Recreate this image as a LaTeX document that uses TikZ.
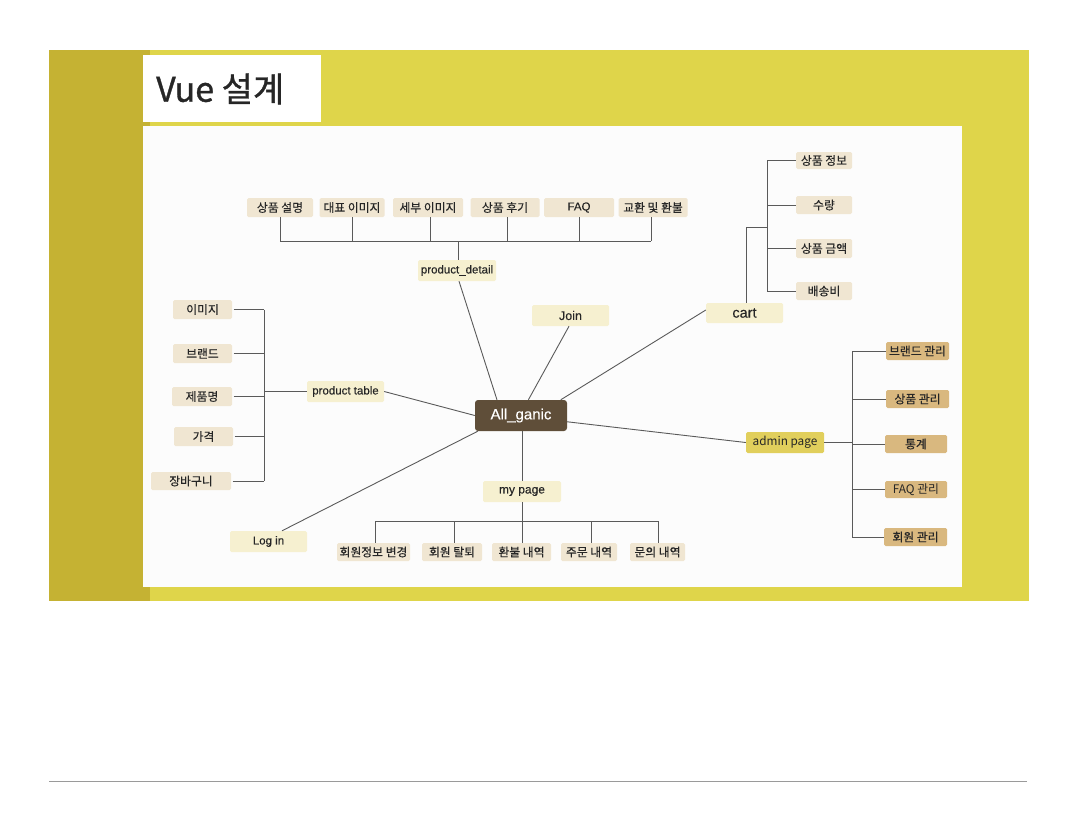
\documentclass[tikz,border=0pt]{standalone}
\usepackage{fontspec}
\usetikzlibrary{calc}
\newfontfamily\kr[FakeBold=0.3]{Noto Sans CJK KR}
\newfontfamily\krl{Noto Sans CJK KR}
\newfontfamily\krt[FakeBold=1.0]{Noto Sans CJK KR}
\newfontfamily\rob[FakeBold=0.3]{Liberation Sans}
\definecolor{yelband}{HTML}{DFD54A}
\definecolor{olive}{HTML}{C5B233}
\definecolor{beige}{HTML}{F0E6D2}
\definecolor{lyel}{HTML}{F6F0D0}
\definecolor{admc}{HTML}{E1CF5C}
\definecolor{tanc}{HTML}{D9B87F}
\definecolor{brownc}{HTML}{5F4E39}
\definecolor{lnc}{HTML}{5A5A5A}
\definecolor{txt}{HTML}{262626}
\definecolor{rule}{HTML}{9A9A9A}
\begin{document}
\begin{tikzpicture}[x=1pt,y=-1pt,
  kb/.style={fill=beige,text=txt,inner sep=0pt,rounded corners=1.5pt,font=\kr\fontsize{11.8}{12}\selectfont},
  lb/.style={fill=lyel,text=txt,inner sep=0pt,rounded corners=1.5pt,font=\rob\fontsize{11.5}{12}\selectfont},
  ab/.style={fill=tanc,text=txt,inner sep=0pt,rounded corners=1.5pt,font=\kr\fontsize{11.8}{12}\selectfont},
  ln/.style={draw=lnc,line width=0.9pt}]
\useasboundingbox (0,0) rectangle (1084,836);
\fill[white] (0,0) rectangle (1084,836);
% background band
\fill[yelband] (49,50) rectangle (1029,601);
\fill[olive] (49,50) rectangle (150,601);
\fill[white!99!black] (143,126) rectangle (962,587);
\node[fill=white,minimum width=178,minimum height=67,inner sep=0pt] (titlebox) at (232,88.5) {};
\node[anchor=west,text=txt,font=\krt\fontsize{34}{34}\selectfont,inner sep=0pt] (title) at (156,89) {Vue 설계};
\draw[rule,line width=0.8pt] (49,781) coordinate (r1) -- (1027,781) coordinate (r2);

% center
\node[fill=brownc,text=white,rounded corners=3pt,inner sep=0pt,minimum width=92,minimum height=31,font=\rob\fontsize{15}{15}\selectfont] (ag) at (521,415.5) {All\_ganic};

% top: product detail
\node[kb,minimum width=66,minimum height=19] (d1) at (280,207.5) {상품 설명};
\node[kb,minimum width=65,minimum height=19] (d2) at (352,207.5) {대표 이미지};
\node[kb,minimum width=70,minimum height=19] (d3) at (428,207.5) {세부 이미지};
\node[kb,minimum width=69,minimum height=19] (d4) at (505,207.5) {상품 후기};
\node[kb,minimum width=70,minimum height=19,font=\rob\fontsize{11.5}{12}\selectfont] (d5) at (579,207.5) {FAQ};
\node[kb,minimum width=69,minimum height=19] (d6) at (653,207.5) {교환 및 환불};
\node[lb,minimum width=78,minimum height=21] (pd) at (457,270.5) {product\_detail};
\coordinate (bus) at (0,241);
\foreach \n/\xx in {d1/280,d2/352,d3/430,d4/507,d5/579,d6/651}
  \draw[ln] (\xx,0 |- \n.south) -- (\xx,0 |- bus);
\draw[ln] (280,0 |- bus) -- (651,0 |- bus);
\draw[ln] (458,0 |- pd.north) -- (458,0 |- bus);
\draw[ln] ($(ag.north west)!0.24!(ag.north east)$) -- (459,0 |- pd.south);

% join
\node[lb,minimum width=77,minimum height=21,font=\rob\fontsize{12.5}{13}\selectfont] (join) at (570.5,315.5) {Join};
\draw[ln] ($(ag.north west)!0.58!(ag.north east)$) -- (569,0 |- join.south);

% cart
\node[lb,minimum width=77,minimum height=20,font=\rob\fontsize{14.5}{15}\selectfont] (cart) at (744.5,313) {cart};
\node[kb,minimum width=56,minimum height=17] (c1) at (824,160.5) {상품 정보};
\node[kb,minimum width=56,minimum height=18] (c2) at (824,205) {수량};
\node[kb,minimum width=56,minimum height=19] (c3) at (824,248.5) {상품 금액};
\node[kb,minimum width=56,minimum height=18] (c4) at (824,291) {배송비};
\coordinate (ctr) at (767,227);
\draw[ln] (746,0 |- cart.north) -- (746,0 |- ctr) -- (ctr);
\draw[ln] (ctr |- c1.west) -- (ctr |- c4.west);
\foreach \n in {c1,c2,c3,c4} \draw[ln] (\n.west) -- (ctr |- \n.west);
\draw[ln] ($(ag.north west)!0.93!(ag.north east)$) -- ($(cart.west)+(0,-3)$);

% product table
\node[lb,minimum width=77,minimum height=21] (pt) at (345.5,391.5) {product table};
\node[kb,minimum width=59,minimum height=19] (p1) at (202.5,309.5) {이미지};
\node[kb,minimum width=59,minimum height=19] (p2) at (202.5,353.5) {브랜드};
\node[kb,minimum width=60,minimum height=19] (p3) at (202,396.5) {제품명};
\node[kb,minimum width=59,minimum height=19] (p4) at (203.5,436.5) {가격};
\node[kb,minimum width=80,minimum height=18] (p5) at (191,481) {장바구니};
\coordinate (ltr) at (264,0);
\foreach \n in {p1,p2,p3,p4,p5} \draw[ln] ($(\n.east)+(1.5,0)$) -- (ltr |- \n.east);
\draw[ln] (ltr |- p1.east) -- (ltr |- p5.east);
\draw[ln] (pt.west) -- (ltr |- pt.west);
\draw[ln] (pt.east) -- (ag.west);

% log in
\node[lb,minimum width=77,minimum height=21] (login) at (268.5,541.5) {Log in};
\draw[ln] (282,0 |- login.north) -- ($(ag.south west)+(3,0)$);

% my page
\node[lb,minimum width=78,minimum height=21,font=\rob\fontsize{12}{12}\selectfont] (mp) at (522,491.5) {my page};
\node[kb,minimum width=73,minimum height=18] (m1) at (373.5,552) {회원정보 변경};
\node[kb,minimum width=60,minimum height=18] (m2) at (452,552) {회원 탈퇴};
\node[kb,minimum width=59,minimum height=18] (m3) at (521.5,552) {환불 내역};
\node[kb,minimum width=56,minimum height=18] (m4) at (589,552) {주문 내역};
\node[kb,minimum width=55,minimum height=18] (m5) at (657.5,552) {문의 내역};
\coordinate (mbus) at (0,521);
\foreach \n/\xx in {m1/375,m2/454,m4/591,m5/658}
  \draw[ln] (\xx,0 |- \n.north) -- (\xx,0 |- mbus);
\draw[ln] (375,0 |- mbus) -- (658,0 |- mbus);
\draw[ln] (522,0 |- ag.south) -- (522,0 |- mp.north);
\draw[ln] (522,0 |- mp.south) -- (522,0 |- m3.north);

% admin page
\node[fill=admc,text=txt,inner sep=0pt,rounded corners=1.5pt,minimum width=78,minimum height=21,font=\krl\fontsize{11.8}{12}\selectfont] (ap) at (785,442.5) {admin page};
\node[ab,minimum width=63,minimum height=18] (a1) at (917.5,351) {브랜드 관리};
\node[ab,minimum width=63,minimum height=18] (a2) at (917.5,399) {상품 관리};
\node[ab,minimum width=62,minimum height=18] (a3) at (916,444) {통계};
\node[ab,minimum width=62,minimum height=17,font=\krl\fontsize{11.8}{12}\selectfont] (a4) at (916,489.5) {FAQ 관리};
\node[ab,minimum width=63,minimum height=18] (a5) at (915.5,537) {회원 관리};
\coordinate (atr) at (852,0);
\draw[ln] (ap.east) -- (atr |- ap.east);
\draw[ln] (atr |- a1.west) -- (atr |- a5.west);
\foreach \n in {a1,a2,a3,a4,a5} \draw[ln] (\n.west) -- (atr |- \n.west);
\draw[ln] ($(ag.north east)!0.7!(ag.south east)$) -- (ap.west);
\end{tikzpicture}
\end{document}
